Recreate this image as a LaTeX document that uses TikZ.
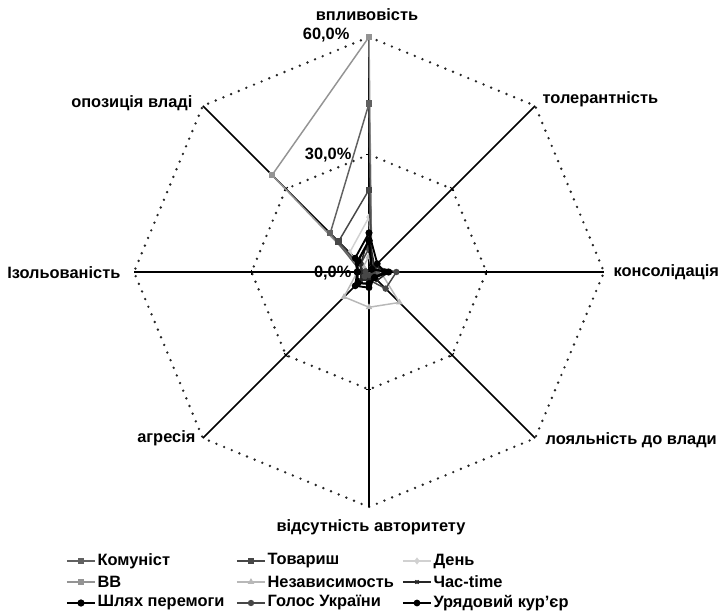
\documentclass[tikz,border=0pt]{standalone}
\usepackage{fontspec}
\setmainfont{Liberation Sans}
\usetikzlibrary{positioning}
\usetikzlibrary{plotmarks}

\tikzset{
  axis/.style={line width=1.2pt, black},
  gridline/.style={line width=2pt, line cap=round, dash pattern=on 0pt off 6.2pt, black!85},
  lbl/.style={font=\bfseries\fontsize{12.3}{14}\selectfont, inner sep=1pt},
  ser/.style={line width=1.1pt, mark size=1.8pt, mark options={solid}},
  komunist/.style={ser, black!62, mark=square*},
  tovarysh/.style={ser, black!72, mark=square*},
  den/.style={ser, black!18, mark=diamond*},
  vv/.style={ser, black!42, mark=square*},
  nezal/.style={ser, black!28, mark=triangle*},
  chas/.style={ser, black!85, mark=x},
  shliakh/.style={ser, black, line width=1.7pt, mark=*},
  holos/.style={ser, black!72, mark=*},
  uriad/.style={ser, black, line width=1.4pt, mark=*}
}

\begin{document}
\begin{tikzpicture}[x=0.75pt,y=0.75pt]
  \useasboundingbox (-369,-340) rectangle (350,272);
  % grid
  \foreach \r in {117.5,235}
    \draw[gridline] (90:\r) \foreach \a in {45,0,-45,-90,-135,-180,-225} { -- (\a:\r) } -- cycle;
  \coordinate (c) at (0,0);
  \foreach \i in {0,...,7} {
    \coordinate (v\i) at ({90-45*\i}:235);
    \draw[axis] (c) -- (v\i);
    \draw[axis, line width=0.8pt] ({90-45*\i}:117.5) ++({-45*\i}:2.5) -- ++({180-45*\i}:5);
  }

  % axis labels
  \node[lbl] (vplyv) at (-2,257) {впливовість};
  \node[lbl, anchor=west] (toler) at (172,173) {толерантність};
  \node[lbl, anchor=west] (konsol) at (243,0) {консолідація};
  \node[lbl, anchor=west] (loial) at (175,-168) {лояльність до влади};
  \node[lbl] (vidsut) at (2,-255) {відсутність авторитету};
  \node[lbl, anchor=east] (ahres) at (-172,-166) {агресія};
  \node[lbl, anchor=east] (izol) at (-247,-1) {Ізольованість};
  \node[lbl, anchor=east] (opoz) at (-175,169) {опозиція владі};
  \node[lbl, anchor=east] (p60) at (-18,237) {60,0\%};
  \node[lbl, anchor=east] (p30) at (-16,117) {30,0\%};
  \node[lbl, anchor=east] (p0) at (-16,-1) {0,0\%};

  % series, values in %
  \begin{scope}[x=2.9375pt,y=2.9375pt]
    \draw[den] plot coordinates {(90:14) (45:1) (0:3) (-45:2) (-90:1) (-135:2) (180:1) (135:7) (90:14)};
    \draw[nezal] plot coordinates {(90:4) (45:1) (0:3) (-45:11) (-90:9) (-135:9) (180:3) (135:2) (90:4)};
    \draw[vv] plot coordinates {(90:60) (45:1) (0:2) (-45:1) (-90:1) (-135:1) (180:1) (135:35) (90:60)};
    \draw[komunist] plot coordinates {(90:43) (45:1) (0:2) (-45:1) (-90:1) (-135:1) (180:2) (135:14) (90:43)};
    \draw[tovarysh] plot coordinates {(90:21) (45:1) (0:1) (-45:2) (-90:1) (-135:1) (180:1) (135:11) (90:21)};
    \draw[holos] plot coordinates {(90:6) (45:2) (0:7) (-45:6) (-90:2) (-135:2) (180:2) (135:3) (90:6)};
    \draw[chas] plot coordinates {(90:9) (45:2) (0:5) (-45:3) (-90:2) (-135:3) (180:2) (135:3) (90:9)};
    \draw[shliakh] plot coordinates {(90:8) (45:1) (0:5) (-45:2) (-90:3) (-135:4) (180:3) (135:4) (90:8)};
    \draw[uriad] plot coordinates {(90:10) (45:3) (0:4) (-45:2) (-90:4) (-135:5) (180:3) (135:5) (90:10)};
  \end{scope}

  % legend
  \foreach \s/\t/\x/\y in {komunist/Комуніст/-302/-289, tovarysh/Товариш/-132/-289, den/День/34/-289,
      vv/ВВ/-302/-310, nezal/Независимость/-132/-310, chas/Час-time/34/-310,
      shliakh/Шлях перемоги/-302/-331, holos/Голос України/-132/-331, uriad/Урядовий кур’єр/34/-331} {
    \node[lbl, anchor=west] (lg-\s) at ({\x+29},\y) {\t};
    \draw[\s] plot[mark indices={2}] coordinates {({\x},\y) ({\x+14},\y) ({\x+28},\y)};
  }
\end{tikzpicture}
\end{document}
